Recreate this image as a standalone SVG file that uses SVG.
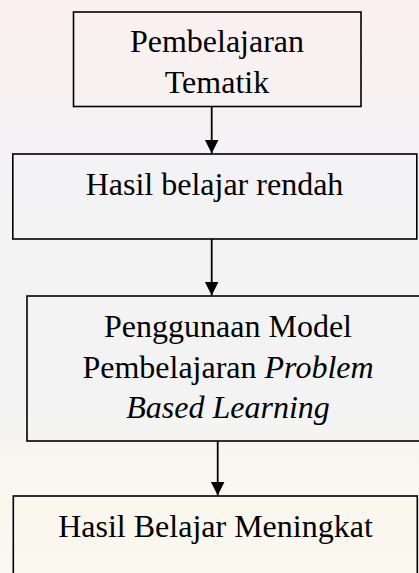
<svg xmlns="http://www.w3.org/2000/svg" width="419" height="573" viewBox="0 0 419 573">
  <defs>
    <linearGradient id="bg" x1="0" y1="0" x2="0" y2="1">
      <stop offset="0" stop-color="#fdf0f0"/>
      <stop offset="0.12" stop-color="#f8f1f2"/>
      <stop offset="0.3" stop-color="#f3f3f5"/>
      <stop offset="0.7" stop-color="#f3f3f4"/>
      <stop offset="0.85" stop-color="#f9f7ee"/>
      <stop offset="1" stop-color="#fbf8ee"/>
    </linearGradient>
    <marker id="ah" viewBox="0 0 14 16" refX="14" refY="8" markerWidth="14" markerHeight="16" markerUnits="userSpaceOnUse" orient="auto">
      <path d="M0,1 L14,8 L0,15 Z" fill="#000"/>
    </marker>
  </defs>
  <style>
    .box { fill: none; stroke: #000; stroke-width: 1.6; }
    .t { font-family: "Liberation Serif", "Times New Roman", serif; font-size: 32px; fill: #000; text-anchor: middle; }
    .i { font-style: italic; }
    .c { stroke: #000; stroke-width: 1.8; fill: none; marker-end: url(#ah); }
  </style>
  <rect x="0" y="0" width="419" height="573" fill="url(#bg)"/>
  <g id="node1">
    <rect class="box" x="73.5" y="12" width="287.5" height="94.5"/>
    <text class="t" x="217" y="52">Pembelajaran</text>
    <text class="t" x="217" y="93">Tematik</text>
  </g>
  <g id="node2">
    <rect class="box" x="12.8" y="154" width="404" height="85"/>
    <text class="t" x="214.5" y="195">Hasil belajar rendah</text>
  </g>
  <g id="node3">
    <rect class="box" x="27" y="296" width="420" height="145"/>
    <text class="t" x="228" y="337">Penggunaan Model</text>
    <text class="t" x="228" y="378">Pembelajaran <tspan class="i">Problem</tspan></text>
    <text class="t i" x="228" y="418">Based Learning</text>
  </g>
  <g id="node4">
    <rect class="box" x="13.3" y="496" width="404" height="120"/>
    <text class="t" x="215.5" y="536.5">Hasil Belajar Meningkat</text>
  </g>
  <g id="connectors">
    <line class="c" x1="211.7" y1="106.5" x2="211.7" y2="153.5"/>
    <line class="c" x1="211.7" y1="239" x2="211.7" y2="295.5"/>
    <line class="c" x1="217.7" y1="441" x2="217.7" y2="495.5"/>
  </g>
</svg>
